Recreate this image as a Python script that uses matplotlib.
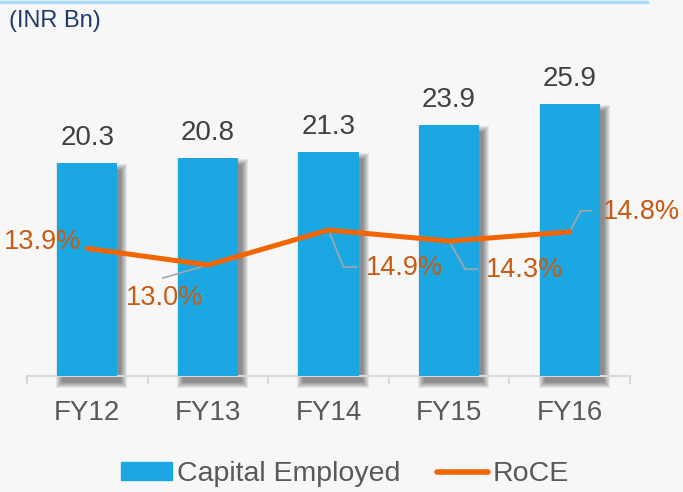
import numpy as np
import matplotlib
matplotlib.use('Agg')
from matplotlib import pyplot as plt
from matplotlib.lines import Line2D
from matplotlib.patches import Patch, Rectangle

plt.rcParams['font.family'] = ['Liberation Sans', 'DejaVu Sans']

years = ['FY12', 'FY13', 'FY14', 'FY15', 'FY16']
capital = [20.3, 20.8, 21.3, 23.9, 25.9]
roce = [13.9, 13.0, 14.9, 14.3, 14.8]
roce_labels = ['13.9%', '13.0%', '14.9%', '14.3%', '14.8%']

# label placement (pixels from the point) and leader elbows
lbl_off = [(-6, 6), (-43, -33), (37, -38), (37, -29), (33, 20)]
lbl_ha = ['right', 'center', 'left', 'left', 'left']
leaders = [[], [(-45, -13)], [(15, -37), (28, -37)], [(16, -28), (28, -28)], [(11, 21), (22, 21)]]

bar_c = '#1BA7E2'
line_c = '#F26500'
pct_c = '#C75B12'
bg = '#F7F7F7'

W, H = 683, 492
fig = plt.figure(figsize=(W / 100, H / 100), dpi=100, facecolor=bg)
ax = fig.add_axes([27 / W, (H - 376) / H, (630 - 27) / W, (376 - 61) / H])
ax.set_facecolor(bg)
x = np.arange(len(years))

ax.set_xlim(-0.5, 4.5)
ax.set_ylim(0, 30)
bars = ax.bar(x, capital, width=0.5, color=bar_c, zorder=3)

# soft drop shadow: stacked translucent rectangles, a few px right / down
inv = ax.transData.inverted()
for b in bars:
    (x0, y0), (x1, y1) = ax.transData.transform([(b.get_x(), 0), (b.get_x() + b.get_width(), b.get_height())])
    for r in range(7):
        (a0, b0), (a1, b1) = inv.transform([(x0 + 5 - r, y0 - 6 - r), (x1 + 4 + r, y1 - 7 + r)])
        ax.add_patch(Rectangle((a0, b0), a1 - a0, b1 - b0, color='#000000', alpha=0.075,
                               lw=0, zorder=1, clip_on=False))

for i, v in enumerate(capital):
    ax.annotate(f'{v:.1f}', (i, v), xytext=(0, 18), textcoords='offset pixels',
                ha='center', va='baseline', fontsize=20, color='#404040')

for s in ['top', 'right', 'left']:
    ax.spines[s].set_visible(False)
ax.spines['bottom'].set_color('#D9D9D9')
ax.spines['bottom'].set_linewidth(1.5)
ax.spines['bottom'].set_zorder(2)
ax.set_yticks([])
ax.set_xticks(np.arange(-0.5, 5, 1))
ax.set_xticklabels([])
ax.set_xticks(x, minor=True)
ax.set_xticklabels(years, minor=True, fontsize=20, color='#595959')
ax.tick_params(axis='x', which='major', length=6, width=1.5, color='#D9D9D9')
ax.tick_params(axis='x', which='minor', length=0, pad=17)

ax2 = ax.twinx()
ax2.set_ylim(6.97, 24.08)
ax2.axis('off')
ax2.plot(x, roce, color=line_c, lw=3.6, solid_capstyle='round', zorder=3)

for i, v in enumerate(roce):
    p = ax2.transData.transform((i, v))
    if leaders[i]:
        pts = [p] + [p + np.array(o) for o in leaders[i]]
        d = ax2.transData.inverted().transform(np.array(pts))
        ax2.plot(d[:, 0], d[:, 1], color='#A6A6A6', lw=1.2, zorder=2)
    ax2.annotate(roce_labels[i], (i, v), xytext=lbl_off[i], textcoords='offset pixels',
                 ha=lbl_ha[i], va='center', fontsize=19.5, color=pct_c)

fig.text(9 / W, 1 - 21 / H, '(INR Bn)', fontsize=17, color='#1F3A6E', va='center', ha='left')
fig.add_artist(Line2D([0, 647 / W], [1 - 1.5 / H, 1 - 1.5 / H], color='#A9DDF5', lw=2.5))

handles = [Patch(color=bar_c, label='Capital Employed'),
           Line2D([], [], color=line_c, lw=4, solid_capstyle='round', label='RoCE')]
fig.legend(handles=handles, loc='center', bbox_to_anchor=(345 / W, 1 - 474 / H), ncol=2,
           frameon=False, fontsize=20.5, handlelength=1.8, handleheight=0.55,
           handletextpad=0.15, columnspacing=1.3, labelcolor='#595959')

fig.savefig('out.png', dpi=100, facecolor=bg)
